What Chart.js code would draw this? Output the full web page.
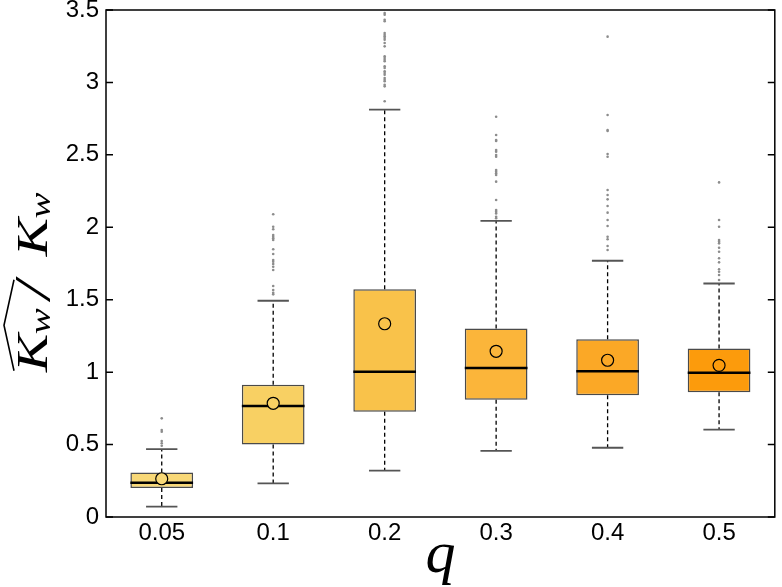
<!DOCTYPE html>
<html>
<head>
<meta charset="utf-8">
<script src="https://cdn.jsdelivr.net/npm/chart.js@4"></script>
<style>
  html, body { margin: 0; padding: 0; background: #fff; }
  #wrap { width: 782px; height: 587px; }
</style>
</head>
<body>
<div id="wrap"><canvas id="boxChart" width="782" height="587"></canvas></div>
<script>
// Data
const categories = ['0.05', '0.1', '0.2', '0.3', '0.4', '0.5'];
const q1 = [0.200, 0.500, 0.727, 0.810, 0.840, 0.861];
const q3 = [0.308, 0.913, 1.572, 1.302, 1.227, 1.164];
const medians = [0.237, 0.766, 1.003, 1.029, 1.006, 0.996];
const means = [0.264, 0.785, 1.334, 1.144, 1.082, 1.047];
const whiskerLow = [0.071, 0.232, 0.320, 0.456, 0.478, 0.603];
const whiskerHigh = [0.469, 1.493, 2.812, 2.044, 1.769, 1.612];
const outliers = [
    [0.681, 0.601, 0.589, 0.525, 0.509, 0.492],
    [2.090, 2.004, 1.986, 1.947, 1.935, 1.924, 1.912, 1.848, 1.816, 1.774, 1.762, 1.747, 1.728, 1.705, 1.595, 1.567, 1.548, 1.537],
    [3.479, 3.468, 3.433, 3.422, 3.341, 3.329, 3.318, 3.306, 3.295, 3.272, 3.249, 3.180, 3.169, 3.157, 3.146, 3.111, 3.100, 3.077, 3.065, 3.053, 3.030, 3.019, 3.008, 2.984, 2.973, 2.870],
    [2.763, 2.637, 2.602, 2.596, 2.533, 2.522, 2.499, 2.487, 2.395, 2.384, 2.373, 2.361, 2.315, 2.188, 2.119, 2.108, 2.096, 2.073, 2.062],
    [3.316, 2.775, 2.672, 2.665, 2.506, 2.487, 2.257, 2.223, 2.193, 2.147, 2.101, 2.050, 2.009, 1.935, 1.917, 1.871, 1.843],
    [2.310, 2.050, 2.004, 1.912, 1.901, 1.889, 1.859, 1.831, 1.786, 1.758, 1.710, 1.693, 1.671, 1.636]
];
const yTicks = [0, 0.5, 1, 1.5, 2, 2.5, 3, 3.5];
const boxColors = ['#f8d877', '#f8d063', '#f9c24a', '#fbb53a', '#fba826', '#fc9b0c'];

// whiskers, caps and medians, drawn with the chart scales
const boxExtras = {
    id: 'boxExtras',
    afterDatasetDraw(chart, args) {
        if (args.index !== 0) return;
        const ctx = chart.ctx;
        const x = chart.scales.x, y = chart.scales.y;
        const bars = chart.getDatasetMeta(0).data;
        ctx.save();
        categories.forEach((c, i) => {
            const px = x.getPixelForValue(i);
            const w = bars[i].width;
            // dashed whiskers
            ctx.setLineDash([4, 3]);
            ctx.strokeStyle = '#000';
            ctx.lineWidth = 1.3;
            ctx.beginPath();
            ctx.moveTo(px, y.getPixelForValue(q3[i]));
            ctx.lineTo(px, y.getPixelForValue(whiskerHigh[i]));
            ctx.moveTo(px, y.getPixelForValue(q1[i]));
            ctx.lineTo(px, y.getPixelForValue(whiskerLow[i]));
            ctx.stroke();
            ctx.setLineDash([]);
            // caps
            ctx.strokeStyle = '#555';
            ctx.lineWidth = 1.8;
            ctx.beginPath();
            [whiskerHigh[i], whiskerLow[i]].forEach(v => {
                const py = y.getPixelForValue(v);
                ctx.moveTo(px - w / 4, py);
                ctx.lineTo(px + w / 4, py);
            });
            ctx.stroke();
            // median
            ctx.strokeStyle = '#000';
            ctx.lineWidth = 2.5;
            ctx.beginPath();
            const pm = y.getPixelForValue(medians[i]);
            ctx.moveTo(px - w / 2, pm);
            ctx.lineTo(px + w / 2, pm);
            ctx.stroke();
        });
        ctx.restore();
    },
    afterDraw(chart) {
        const ctx = chart.ctx;
        const area = chart.chartArea;
        const y = chart.scales.y;
        ctx.save();
        // frame
        ctx.strokeStyle = '#000';
        ctx.lineWidth = 1.5;
        ctx.strokeRect(area.left, area.top, area.right - area.left, area.bottom - area.top);
        // inward ticks on both sides
        ctx.beginPath();
        yTicks.forEach(v => {
            const py = y.getPixelForValue(v);
            ctx.moveTo(area.left, py);
            ctx.lineTo(area.left + 7, py);
            ctx.moveTo(area.right, py);
            ctx.lineTo(area.right - 7, py);
        });
        ctx.stroke();

        // x title
        ctx.fillStyle = '#000';
        ctx.font = 'italic 60px "Liberation Serif"';
        ctx.textAlign = 'center';
        ctx.textBaseline = 'alphabetic';
        ctx.fillText('q', (area.left + area.right) / 2, 572);

        // y title: hat K_w / K_w
        ctx.translate(47, 372);
        ctx.rotate(-Math.PI / 2);
        ctx.scale(1.3, 1);
        ctx.textAlign = 'left';
        ctx.font = 'italic 44px "Liberation Serif"';
        ctx.fillText('K', 0, 0);
        ctx.font = 'italic 30px "Liberation Serif"';
        ctx.fillText('w', 29, 3);
        ctx.font = 'italic 50px "Liberation Serif"';
        ctx.fillText('/', 56, 2);
        ctx.font = 'italic 44px "Liberation Serif"';
        ctx.fillText('K', 89, 0);
        ctx.font = 'italic 30px "Liberation Serif"';
        ctx.fillText('w', 118, 3);
        ctx.lineWidth = 1.6;
        ctx.beginPath();
        ctx.moveTo(1, -33);
        ctx.lineTo(36, -43);
        ctx.lineTo(71, -33);
        ctx.stroke();
        ctx.restore();
    }
};

const outlierPoints = [];
outliers.forEach((list, i) => {
    list.forEach(v => outlierPoints.push({ x: categories[i], y: v }));
});

const ctx = document.getElementById('boxChart').getContext('2d');
new Chart(ctx, {
    type: 'bar',
    data: {
        labels: categories,
        datasets: [
            {
                label: 'box',
                data: categories.map((c, i) => [q1[i], q3[i]]),
                backgroundColor: boxColors,
                borderColor: '#4a4a4a',
                borderWidth: 1.5,
                borderSkipped: false,
                barPercentage: 0.5625,
                categoryPercentage: 1,
                order: 3
            },
            {
                type: 'line',
                label: 'outliers',
                data: outlierPoints,
                showLine: false,
                pointRadius: 1.3,
                pointBorderWidth: 0,
                pointBackgroundColor: '#8c8c8c',
                order: 2
            },
            {
                type: 'line',
                label: 'mean',
                data: categories.map((c, i) => ({ x: c, y: means[i] })),
                showLine: false,
                pointRadius: 6,
                pointBorderWidth: 1.2,
                pointBorderColor: '#000',
                pointBackgroundColor: boxColors,
                order: 1
            }
        ]
    },
    options: {
        responsive: false,
        animation: false,
        layout: { padding: { left: 0, right: 4, top: 10, bottom: 0 } },
        plugins: {
            legend: { display: false },
            tooltip: { enabled: false }
        },
        scales: {
            x: {
                type: 'category',
                offset: true,
                grid: { display: false, drawTicks: false },
                border: { display: false },
                ticks: { color: '#000', padding: 2, font: { family: 'Liberation Sans', size: 24 } },
                afterFit(scale) { scale.height = 70; scale.paddingLeft = 0; scale.paddingRight = 0; }
            },
            y: {
                min: 0,
                max: 3.5,
                grid: { display: false, drawTicks: false },
                border: { display: false },
                ticks: {
                    stepSize: 0.5,
                    color: '#000',
                    padding: 7,
                    font: { family: 'Liberation Sans', size: 24 },
                    callback: value => String(value)
                },
                afterFit(scale) { scale.width = 106; scale.paddingTop = 10; scale.paddingBottom = 0; }
            }
        }
    },
    plugins: [boxExtras]
});
</script>
</body>
</html>
